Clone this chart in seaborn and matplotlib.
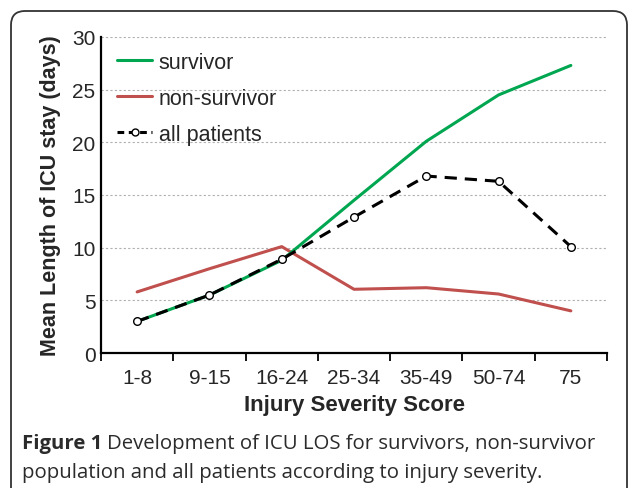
import seaborn as sns
import matplotlib.pyplot as plt
from matplotlib.patches import FancyBboxPatch
from matplotlib.lines import Line2D

categories = ["1-8", "9-15", "16-24", "25-34", "35-49", "50-74", "75"]
survivor = [3.0, 5.5, 8.8, 14.5, 20.1, 24.5, 27.3]
non_survivor = [5.8, 8.0, 10.1, 6.05, 6.2, 5.6, 4.0]
all_patients = [3.0, 5.5, 8.9, 12.9, 16.8, 16.3, 10.1]

sns.set_style("white")
plt.rcParams["font.family"] = ["Liberation Sans", "DejaVu Sans"]

fig = plt.figure(figsize=(6.29, 4.89), dpi=100)

# background layer in pixel units for the frame and caption
bg = fig.add_axes([0, 0, 1, 1], zorder=-1)
bg.set_xlim(0, 629)
bg.set_ylim(489, 0)
bg.axis("off")
bg.add_patch(FancyBboxPatch((11, 12), 616, 520, boxstyle="round,pad=0,rounding_size=14",
                            fc="white", ec="#333333", lw=1.3))

ax = fig.add_axes([101 / 629, 1 - 354 / 489, 506 / 629, 316 / 489])
ax.set_facecolor("none")

green = "#00A650"
red = "#C0504D"
sns.lineplot(x=categories, y=survivor, ax=ax, color=green, lw=2.2, sort=False, zorder=3)
sns.lineplot(x=categories, y=non_survivor, ax=ax, color=red, lw=2.2, sort=False, zorder=2)
sns.lineplot(x=categories, y=all_patients, ax=ax, color="black", lw=2.2, sort=False,
             marker="o", markersize=5.5, markerfacecolor="white", markeredgecolor="black",
             markeredgewidth=1.0, zorder=4)
ax.lines[-1].set_dashes([4, 2.6])

ax.set_xlim(-0.5, len(categories) - 0.5)
ax.set_ylim(0, 30)
ax.set_yticks(range(0, 31, 5))
ax.tick_params(axis="y", length=0, labelsize=15, pad=4)
ax.set_xticks([i - 0.5 for i in range(len(categories) + 1)])
ax.set_xticklabels([])
ax.set_xticks(range(len(categories)), minor=True)
ax.set_xticklabels(categories, minor=True, fontsize=15)
ax.tick_params(axis="x", which="major", length=6, width=1.3, color="black", direction="out")
ax.tick_params(axis="x", which="minor", length=0, pad=10.5)
ax.xaxis.set_ticks_position("bottom")

ax.grid(axis="y", color="#b0b0b0", ls=(0, (2, 2)), lw=0.8)
ax.grid(axis="x", visible=False)
for s in ["top", "right"]:
    ax.spines[s].set_visible(False)
for s in ["left", "bottom"]:
    ax.spines[s].set_color("black")
    ax.spines[s].set_linewidth(1.6)

ax.set_xlabel("Injury Severity Score", fontsize=16, fontweight="bold", labelpad=5)
ax.set_ylabel("Mean Length of ICU stay (days)", fontsize=15.5, fontweight="bold", labelpad=8)

handles = [
    Line2D([], [], color=green, lw=2.2),
    Line2D([], [], color=red, lw=2.2),
    Line2D([], [], color="black", lw=2.2, dashes=[2.2, 1.5], marker="o", markersize=5,
           markerfacecolor="white", markeredgecolor="black", markeredgewidth=1.0),
]
ax.legend(handles, ["survivor", "non-survivor", "all patients"], loc="upper left",
          frameon=False, fontsize=15.5, handlelength=1.65, handletextpad=0.3,
          labelspacing=0.69, bbox_to_anchor=(-0.007, 1.014))

cap_color = "#2b2b2b"
cap_font = ["Open Sans", "DejaVu Sans"]
t1 = bg.text(22, 449, "Figure 1", fontsize=14.7, fontweight="bold", color=cap_color,
             family=cap_font, va="baseline")
fig.canvas.draw()
ext = t1.get_window_extent()
x_end = ext.x1 + 5
bg.text(x_end, 449, "Development of ICU LOS for survivors, non-survivor", fontsize=14.7,
        color=cap_color, family=cap_font, va="baseline")
bg.text(22, 478, "population and all patients according to injury severity.", fontsize=14.7,
        color=cap_color, family=cap_font, va="baseline")

fig.savefig("out.png", dpi=100)
